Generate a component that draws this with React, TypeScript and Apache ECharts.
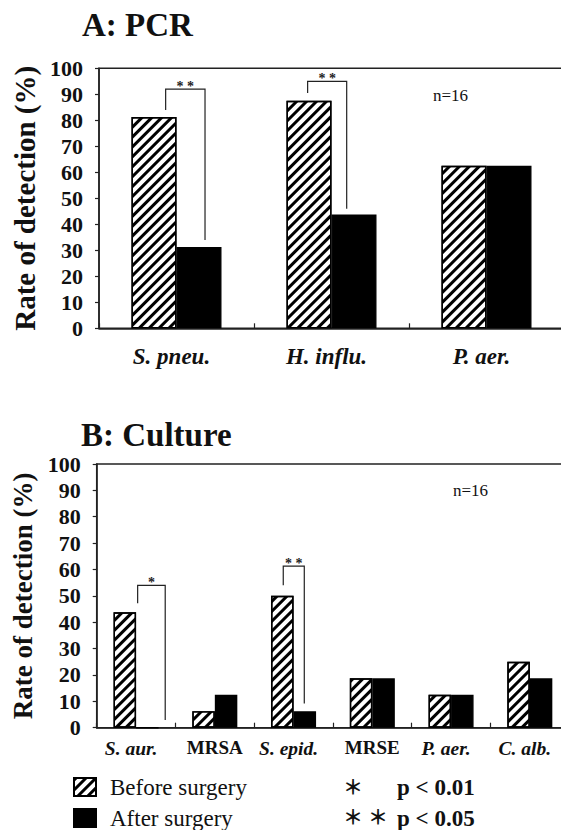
import React, { useEffect, useRef } from "react";
import * as echarts from "echarts";

// ---------- data ----------
const CATS_A = ["S. pneu.", "H. influ.", "P. aer."];
const BEFORE_A = [81.25, 87.5, 62.5];
const AFTER_A = [31.25, 43.75, 62.5];

const CATS_B = ["S. aur.", "MRSA", "S. epid.", "MRSE", "P. aer.", "C. alb."];
const BEFORE_B = [43.75, 6.25, 50, 18.75, 12.5, 25];
const AFTER_B = [0, 12.5, 6.25, 18.75, 12.5, 18.75];

const Y_MIN = 0;
const Y_MAX = 100;
const Y_STEP = 10;

// significance brackets: [category, top value, left leg end, right leg end]
const SIG_A_CATS = ["S. pneu.", "H. influ."];
const SIG_A_TOP = [92, 95];
const SIG_A_LEFT = [84, 90.5];
const SIG_A_RIGHT = [34, 46];
const SIG_A_MARK = ["* *", "* *"];

const SIG_B_CATS = ["S. aur.", "S. epid."];
const SIG_B_TOP = [54, 61.3];
const SIG_B_LEFT = [47.2, 54];
const SIG_B_RIGHT = [2.9, 9.2];
const SIG_B_MARK = ["*", "* *"];

const SERIES_NAMES = ["Before surgery", "After surgery"];
const N_LABEL = "n=16";
const P_NOTES = ["p < 0.01", "p < 0.05"];

// ---------- styles / positions ----------
const SERIF = "Liberation Serif, Times New Roman, serif";
const STAR_FONT = "Noto Sans CJK JP, sans-serif";
const INK = "#111";
const BRACKET_X_A = [
  [-0.07, 0.184],
  [-0.154, 0.098],
];
const BRACKET_X_B = [
  [0.02, 0.37],
  [-0.131, 0.136],
];

const hatch = {
  symbol: "rect",
  symbolSize: 1,
  color: "#000",
  backgroundColor: "#fff",
  dashArrayX: [1, 0],
  dashArrayY: [2.8, 3.7],
  rotation: -Math.PI / 4,
};

function catLabel(v: string) {
  return /^[A-Z]+$/.test(v) ? `{n|${v}}` : `{i|${v}}`;
}

function bracketSeries(
  gridIdx: number,
  cats: string[],
  sigCats: string[],
  top: number[],
  left: number[],
  right: number[],
  marks: string[],
  offsets: number[][]
) {
  return {
    type: "custom",
    xAxisIndex: gridIdx,
    yAxisIndex: gridIdx,
    silent: true,
    clip: false,
    z: 10,
    data: sigCats.map((c, i) => [cats.indexOf(c), top[i], left[i], right[i]]),
    renderItem: (params: any, api: any) => {
      const c = api.value(0);
      const cx = api.coord([c, 0])[0];
      const band = api.size([1, 0])[0];
      const off = offsets[params.dataIndex];
      const xl = cx + off[0] * band;
      const xr = cx + off[1] * band;
      const yt = api.coord([c, api.value(1)])[1];
      const yl = api.coord([c, api.value(2)])[1];
      const yr = api.coord([c, api.value(3)])[1];
      return {
        type: "group",
        children: [
          {
            type: "polyline",
            shape: { points: [[xl, yl], [xl, yt], [xr, yt], [xr, yr]] },
            style: { stroke: "#222", lineWidth: 1.2, fill: null },
          },
          {
            type: "text",
            x: (xl + xr) / 2,
            y: yt - 3,
            style: {
              text: marks[params.dataIndex],
              fontSize: 14,
              fontWeight: "bold",
              fontFamily: SERIF,
              fill: "#222",
              align: "center",
              verticalAlign: "middle",
            },
          },
        ],
      };
    },
  };
}

function yAxis(gridIndex: number, nameSize: number, nameGap: number) {
  return {
    type: "value",
    gridIndex,
    min: Y_MIN,
    max: Y_MAX,
    interval: Y_STEP,
    name: "Rate of detection (%)",
    nameLocation: "middle",
    nameRotate: 90,
    nameGap,
    nameTextStyle: {
      fontFamily: SERIF,
      fontWeight: "bold",
      fontSize: nameSize,
      color: INK,
    },
    axisLine: { show: true, lineStyle: { color: "#222", width: 1.5 } },
    axisTick: { show: true, inside: false, length: 4, lineStyle: { color: "#222", width: 1.2 } },
    splitLine: { show: false },
    axisLabel: {
      margin: 16,
      fontFamily: SERIF,
      fontWeight: "bold",
      fontSize: 22,
      color: INK,
    },
  };
}

function xAxis(gridIndex: number, cats: string[], size: number, margin: number) {
  return {
    type: "category",
    gridIndex,
    data: cats,
    axisLine: { show: true, lineStyle: { color: "#222", width: 1.5 } },
    axisTick: { show: true, inside: true, length: 5, lineStyle: { color: "#222", width: 1.2 } },
    axisLabel: {
      interval: 0,
      margin,
      color: INK,
      formatter: catLabel,
      rich: {
        i: { fontFamily: SERIF, fontWeight: "bold", fontStyle: "italic", fontSize: size, color: INK, padding: [0, 10, 0, 0] },
        n: { fontFamily: SERIF, fontWeight: "bold", fontSize: size - 0.5, color: INK, padding: [0, 0, 4, 0] },
      },
    },
    splitLine: { show: false },
  };
}

function barPair(gridIdx: number, before: number[], after: number[], width: number) {
  return [
    {
      name: SERIES_NAMES[0],
      type: "bar",
      xAxisIndex: gridIdx,
      yAxisIndex: gridIdx,
      data: before,
      barWidth: width,
      barGap: "0%",
      itemStyle: { color: "#fff", borderColor: "#000", borderWidth: 1.4, decal: hatch },
    },
    {
      name: SERIES_NAMES[1],
      type: "bar",
      xAxisIndex: gridIdx,
      yAxisIndex: gridIdx,
      data: after,
      barWidth: width,
      barGap: "0%",
      itemStyle: { color: "#000", borderColor: "#000", borderWidth: 1.4 },
    },
  ];
}

function star(x: number, y: number) {
  return {
    type: "text",
    x,
    y,
    style: { text: "＊", fontFamily: STAR_FONT, fontWeight: "bold", fontSize: 20, fill: INK, align: "center", verticalAlign: "middle" },
  };
}

export default function App() {
  const ref = useRef<HTMLDivElement>(null);

  useEffect(() => {
    if (!ref.current) return;
    const chart = echarts.init(ref.current, null, { renderer: "svg" });
    const option: any = {
      animation: false,
      backgroundColor: "#fff",
      grid: [
        {
          left: 99, top: 68.3, width: 465, height: 260,
          show: true, borderColor: "#222", borderWidth: 1.5, backgroundColor: "transparent",
          containLabel: false, outerBoundsMode: "none",
        },
        {
          left: 96.7, top: 464, width: 472.5, height: 263.7,
          show: true, borderColor: "#222", borderWidth: 1.5, backgroundColor: "transparent",
          containLabel: false, outerBoundsMode: "none",
        },
      ],
      xAxis: [xAxis(0, CATS_A, 23, 17), xAxis(1, CATS_B, 19.5, 10.5)],
      yAxis: [yAxis(0, 29, 58), yAxis(1, 27, 57)],
      legend: {
        orient: "vertical",
        left: 73,
        top: 775.5,
        padding: 0,
        itemWidth: 22,
        itemHeight: 18,
        itemGap: 8,
        icon: "rect",
        selectedMode: false,
        data: SERIES_NAMES,
        textStyle: { fontFamily: SERIF, fontSize: 23, color: INK, padding: [0, 0, 0, 9] },
      },
      graphic: [
        { type: "text", x: 82, y: 24.5, style: { text: "A: PCR", fontFamily: SERIF, fontWeight: "bold", fontSize: 33, fill: INK, align: "left", verticalAlign: "middle" } },
        { type: "text", x: 81, y: 435, style: { text: "B: Culture", fontFamily: SERIF, fontWeight: "bold", fontSize: 33, fill: INK, align: "left", verticalAlign: "middle" } },
        { type: "text", x: 433, y: 95, style: { text: N_LABEL, fontFamily: SERIF, fontSize: 17, fill: INK, align: "left", verticalAlign: "middle" } },
        { type: "text", x: 453, y: 490, style: { text: N_LABEL, fontFamily: SERIF, fontSize: 17, fill: INK, align: "left", verticalAlign: "middle" } },
        star(353, 786),
        star(353, 816),
        star(378, 816),
        { type: "text", x: 397, y: 787, style: { text: P_NOTES[0], fontFamily: SERIF, fontWeight: "bold", fontSize: 23, fill: INK, align: "left", verticalAlign: "middle" } },
        { type: "text", x: 397, y: 818, style: { text: P_NOTES[1], fontFamily: SERIF, fontWeight: "bold", fontSize: 23, fill: INK, align: "left", verticalAlign: "middle" } },
      ],
      series: [
        ...barPair(0, BEFORE_A, AFTER_A, 45),
        ...barPair(1, BEFORE_B, AFTER_B, 22.5),
        bracketSeries(0, CATS_A, SIG_A_CATS, SIG_A_TOP, SIG_A_LEFT, SIG_A_RIGHT, SIG_A_MARK, BRACKET_X_A),
        bracketSeries(1, CATS_B, SIG_B_CATS, SIG_B_TOP, SIG_B_LEFT, SIG_B_RIGHT, SIG_B_MARK, BRACKET_X_B),
      ],
    };
    chart.setOption(option);
    return () => chart.dispose();
  }, []);

  return (
    <div
      ref={ref}
      style={{ position: "fixed", left: 0, top: 0, width: 561, height: 830, background: "#fff" }}
    />
  );
}
